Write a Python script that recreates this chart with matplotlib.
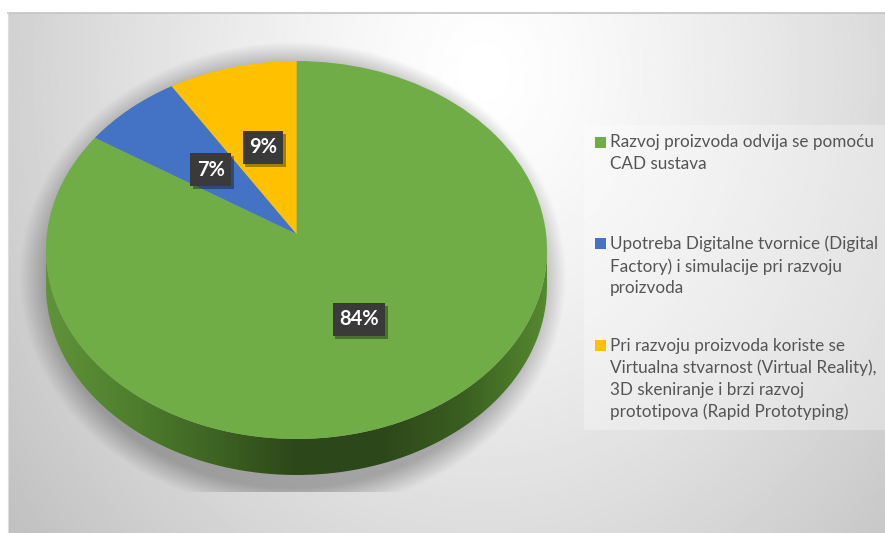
import numpy as np
import matplotlib
matplotlib.use('Agg')
import matplotlib.pyplot as plt
import matplotlib.patheffects as pe
from matplotlib.colors import LinearSegmentedColormap
from matplotlib.patches import PathPatch, Rectangle
from matplotlib.path import Path
from matplotlib.transforms import Transform

plt.rcParams['font.family'] = ['Lato', 'DejaVu Sans']

W, H = 885, 533

shares = [84, 7, 9]
colors = ['#70AD47', '#4472C4', '#FFC000']
labels = [
    'Razvoj proizvoda odvija se pomoću\nCAD sustava',
    'Upotreba Digitalne tvornice (Digital\nFactory) i simulacije pri razvoju\nproizvoda',
    'Pri razvoju proizvoda koriste se\nVirtualna stvarnost (Virtual Reality),\n3D skeniranje i brzi razvoj\nprototipova (Rapid Prototyping)',
]
label_tops = [142, 243, 345]

# pie geometry in pixels (apex of the slices sits above the ellipse centre)
apex_x, apex_y = 296.5, 234
rx, ry, depth = 250.5, 189, 36
cy = 61 + ry
persp_a, persp_b, persp_k = 249.6, 187.6, 0.0846


class Tilt(Transform):
    # turns the flat unit pie into the tilted one, result in pixels around the apex
    input_dims = 2
    output_dims = 2

    def transform_non_affine(self, values):
        values = np.asarray(values, dtype=float)
        w = 1 + persp_k * values[:, 1]
        return np.column_stack([persp_a * values[:, 0] / w, persp_b * values[:, 1] / w])


def background():
    yy, xx = np.mgrid[0:H, 0:W]
    d = np.sqrt(((xx - 480) / 500.0) ** 2 + ((yy - 60) / 620.0) ** 2)
    img = 1.0 - 0.19 * d ** 1.3
    # soft shadow under the pie
    e = np.sqrt(((xx - 287) / 258.0) ** 2 + ((yy - 270) / 225.0) ** 2)
    a = np.clip((1.07 - e) / 0.11, 0, 1)
    a[yy > 490] = 0
    return img * (1 - 0.27 * a)


fig = plt.figure(figsize=(W / 100, H / 100), dpi=100, facecolor='white')

bg = fig.add_axes([0, 0, 1, 1])
bg.axis('off')
bg.imshow(background(), cmap='gray', vmin=0, vmax=1, extent=(8, W, H, 13),
          aspect='auto', zorder=1)
bg.plot([8, W], [13, 13], color='#c4c4c4', lw=1.2, zorder=2)
bg.plot([8, 8], [13, H], color='#dddddd', lw=0.8, zorder=2)

# side wall of the pie
t = np.linspace(0, np.pi, 200)
xs = apex_x + rx * np.cos(t)
ys = cy + ry * np.sin(t)
wall = np.vstack([np.column_stack([xs, ys + depth]),
                  np.column_stack([xs[::-1], ys[::-1]])])
wall_cmap = LinearSegmentedColormap.from_list(
    'wall', ['#5f9339', '#4f7f2e', '#3e6423', '#2c4719', '#2c4719', '#3a5e20', '#55882f'])
grad = np.linspace(0, 1, 300).reshape(1, -1)
im = bg.imshow(grad, cmap=wall_cmap, extent=(apex_x - rx, apex_x + rx, cy + ry + depth, cy),
               aspect='auto', zorder=3)
patch = PathPatch(Path(wall), fc='none', ec='none', transform=bg.transData)
bg.add_patch(patch)
im.set_clip_path(patch)
bg.set_xlim(0, W)
bg.set_ylim(H, 0)

# legend
bg.add_patch(Rectangle((584, 125), W - 584, 305, fc='white', ec='none', alpha=0.3, zorder=4))
for lab, col, top in zip(labels, colors, label_tops):
    bg.add_patch(Rectangle((595, top - 5.5), 11, 11, fc=col, ec='none', zorder=5))
    bg.text(610, top - 7.5, lab, fontsize=12.3, color='#555555', va='top', ha='left',
            linespacing=1.44, zorder=5)

# top surface
ax = fig.add_axes([0, 0, 1, 1])
ax.patch.set_alpha(0)
wedges, _, autotexts = ax.pie(shares, colors=colors, startangle=90, counterclock=False,
                              autopct='%d%%', pctdistance=0.5, radius=1.0)
ax.set_aspect('auto')
ax.set_xlim(-apex_x, W - apex_x)
ax.set_ylim(apex_y - H, apex_y)
for w in wedges:
    w.set_transform(Tilt() + ax.transData)
    w.set_clip_on(False)
for txt in autotexts:
    txt.set_position(Tilt().transform(np.array([txt.get_position()]))[0])
    txt.set_color('white')
    txt.set_fontsize(14.5)
    txt.set_fontweight('bold')
    txt.set_bbox(dict(boxstyle='square,pad=0.32', fc='#3a3a3a', ec='none'))
    txt.get_bbox_patch().set_path_effects(
        [pe.SimplePatchShadow(offset=(2, -2), shadow_rgbFace='black', alpha=0.35), pe.Normal()])

fig.savefig('out.png', dpi=100, facecolor='white')
